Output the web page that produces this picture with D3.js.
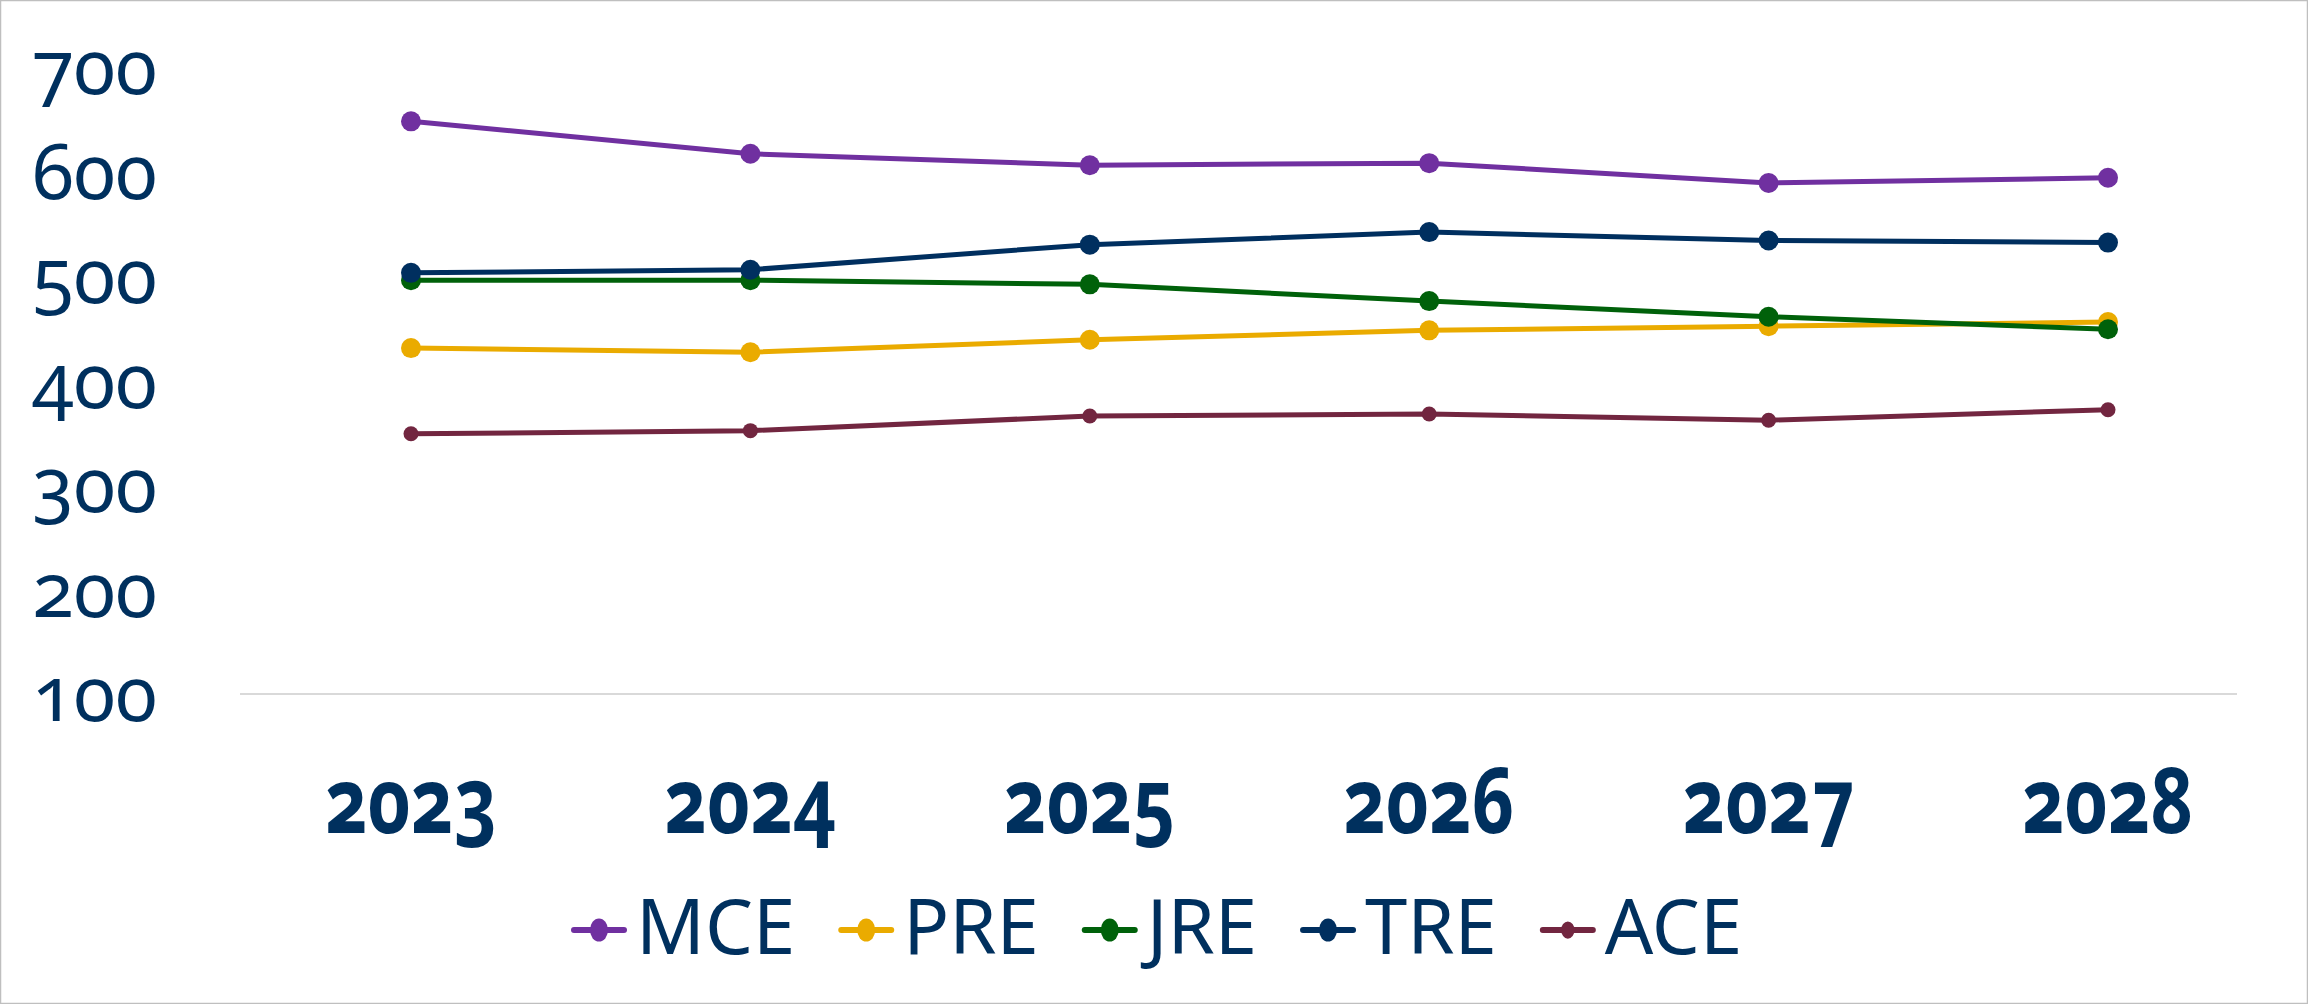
<!DOCTYPE html>
<html lang="en">
<head>
  <meta charset="UTF-8">
  <title>Line chart 2023-2028</title>
  <script src="https://cdn.jsdelivr.net/npm/d3@7"></script>
  <style type="text/css">
    html, body { margin:0; padding:0; background:#fff; }
    svg { display:block; }
    text { font-family: "Noto Sans", "Open Sans", sans-serif; fill:#00305e; font-variant-numeric: oldstyle-nums; }
  </style>
</head>
<body>
<svg id="chart" width="2308" height="1004"></svg>
<script>

  const years = ['2023', '2024', '2025', '2026', '2027', '2028'];
  const yTicks = [100, 200, 300, 400, 500, 600, 700];

  const mce = [648, 617, 606, 608, 589, 594];
  const pre = [431, 427, 439, 448, 452, 456];
  const jre = [496, 496, 492, 476, 461, 449];
  const tre = [503, 506, 530, 542, 534, 532];
  const ace = [349, 352, 366, 368, 362, 372];

  const series = [
    {name:'MCE', values:mce, color:'#7030a0', r:10},
    {name:'PRE', values:pre, color:'#eaab00', r:10},
    {name:'JRE', values:jre, color:'#00610a', r:10},
    {name:'TRE', values:tre, color:'#002f5f', r:10},
    {name:'ACE', values:ace, color:'#722640', r:7.5}
  ];
  // drawing order so TRE sits over JRE, JRE over PRE at the right end
  const drawOrder = ['ACE', 'PRE', 'MCE', 'JRE', 'TRE'];

  const svg = d3.select('#chart');

  svg.append('rect')
    .attr('x', 0.5).attr('y', 0.5).attr('width', 2307).attr('height', 1003)
    .attr('fill', 'none').attr('stroke', '#bfbfbf').attr('stroke-width', 1.5);

  const x = d3.scalePoint().domain(years).range([411, 2108]);
  const y = d3.scaleLinear().domain([100, 700]).range([694, 67]);

  // baseline grid line at 100
  svg.append('line')
    .attr('x1', 240).attr('x2', 2237)
    .attr('y1', y(100)).attr('y2', y(100))
    .attr('stroke', '#d9d9d9').attr('stroke-width', 2);

  // y labels
  svg.append('g').selectAll('text').data(yTicks).join('text')
    .attr('x', 157).attr('y', d => y(d) + 27)
    .attr('text-anchor', 'end')
    .style('font-size', '76px')
    .text(d => d);

  // x labels
  svg.append('g').selectAll('text').data(years).join('text')
    .attr('transform', d => 'translate(' + x(d) + ',833) scale(0.8,1)')
    .attr('text-anchor', 'middle')
    .style('font-size', '92px').style('font-weight', 'bold')
    .text(d => d);

  const line = d3.line().x((d, i) => x(years[i])).y(d => y(d));

  const ordered = drawOrder.map(n => series.find(s => s.name === n));
  const groups = svg.append('g').selectAll('g').data(ordered).join('g');
  groups.append('path')
    .attr('d', d => line(d.values))
    .attr('fill', 'none')
    .attr('stroke', d => d.color)
    .attr('stroke-width', 5)
    .attr('stroke-linejoin', 'round');
  groups.each(function(s) {
    d3.select(this).selectAll('circle').data(s.values).join('circle')
      .attr('cx', (d, i) => x(years[i]))
      .attr('cy', d => y(d))
      .attr('r', s.r)
      .attr('fill', s.color);
  });

  // legend
  const legend = svg.append('g');
  let lx = 0;
  series.forEach(s => {
    const item = legend.append('g').attr('transform', 'translate(' + lx + ',0)');
    item.append('line').attr('x1', 3).attr('x2', 53).attr('y1', 0).attr('y2', 0)
      .attr('stroke', s.color).attr('stroke-width', 6).attr('stroke-linecap', 'round');
    item.append('ellipse').attr('cx', 28).attr('cy', 0)
      .attr('rx', s.r * 0.9).attr('ry', s.r * 1.15).attr('fill', s.color);
    const t = item.append('text').attr('x', 65).attr('y', 24)
      .style('font-size', '76px').text(s.name);
    lx += 65 + t.node().getComputedTextLength() + 43;
  });
  legend.attr('transform', 'translate(571,930)');

</script>
</body>
</html>
